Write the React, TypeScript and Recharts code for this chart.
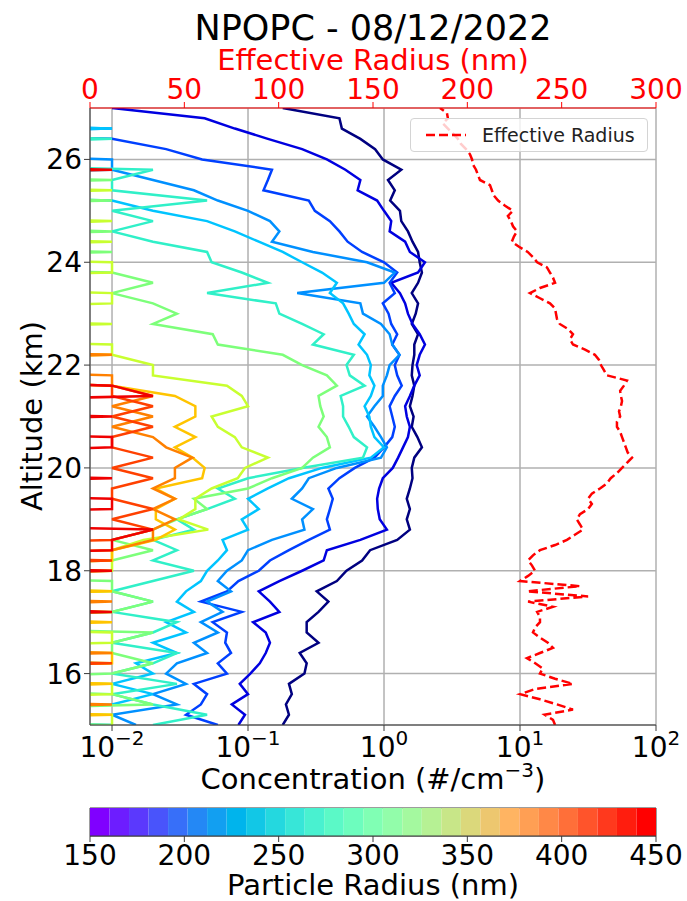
import React from 'react';
import { LineChart, Line, XAxis, YAxis, CartesianGrid, Legend, BarChart, Bar, ReferenceArea } from 'recharts';

// ---------------- DATA ----------------
const altitudeKm = [15.0,15.2,15.4,15.6,15.8,16.0,16.2,16.4,16.6,16.8,17.0,17.2,17.4,17.6,17.8,18.0,18.2,18.4,18.6,18.8,19.0,19.2,19.4,19.6,19.8,20.0,20.2,20.4,20.6,20.8,21.0,21.2,21.4,21.6,21.8,22.0,22.2,22.4,22.6,22.8,23.0,23.2,23.4,23.6,23.8,24.0,24.2,24.4,24.6,24.8,25.0,25.2,25.4,25.6,25.8,26.0,26.2,26.4,26.6,26.8,27.0];

const concBin1 = [0.18,0.20,0.19,0.21,0.20,0.26,0.27,0.24,0.33,0.27, 0.27,0.33,0.39,0.32,0.45,0.53,0.69,0.79,1.25,1.55, 1.47,1.55,1.47,1.55,1.62,1.60,1.67,1.90,1.76,1.60, 1.65,1.55,1.62,1.67,1.60,1.62,1.67,1.67,1.78,1.60, 1.71,1.78,1.60,1.78,1.90,1.83,1.78,1.62,1.50,1.34, 1.31,1.11,1.20,1.07,1.34,0.98,0.86,0.67,0.49,0.47, 0.18];
const concBin2 = [0.085,0.095,0.076,0.10,0.087,0.104,0.122,0.135,0.145,0.135, 0.109,0.17,0.145,0.12,0.17,0.25,0.36,0.38,0.67,1.05, 0.93,0.90,0.89,0.92,0.98,1.16,1.27,1.38,1.50,1.55, 1.47,1.43,1.55,1.67,1.83,1.74,1.83,2.0,1.83,1.62, 1.50,1.43,1.31,1.13,1.78,2.0,1.55,1.43,1.10,1.13, 1.0,0.89,0.64,0.67,0.52,0.38,0.25,0.14,0.08,0.048, 0.01];
const concBin3 = [0.06,0.035,0.045,0.05,0.04,0.07,0.06,0.075,0.068,0.07, 0.055,0.09,0.045,0.07,0.085,0.12,0.145,0.20,0.28,0.40, 0.38,0.40,0.42,0.39,0.47,0.61,0.85,1.0,1.15,1.2, 1.15,1.1,1.2,1.35,1.25,1.2,1.3,1.15,1.25,1.13, 1.08,0.98,1.2,1.1,1.25,1.0,0.69,0.54,0.47,0.40, 0.31,0.28,0.13,0.14,0.15,0.046,0.025,0.01,0,0, 0];
const concBin4 = [0.015,0.01,0.03,0.02,0.035,0.025,0.03,0.05,0.04,0.06, 0.045,0.065,0.05,0.075,0.06,0.07,0.09,0.10,0.15,0.26, 0.25,0.30,0.21,0.25,0.28,0.45,0.95,1.05,0.95,0.85, 0.75,0.85,0.98,0.98,1.05,1.1,1.3,1.15,1.1,0.95, 0.70,0.67,0.23,1.0,1.2,0.75,0.30,0.15,0.17,0.145, 0.10,0.06,0.04,0.02,0.01,0.01,0,0,0.01,0, 0];
const concBin5 = [0.01,0,0.01,0.02,0.01,0.02,0.015,0.03,0.02,0.035, 0.025,0.04,0.03,0.035,0.045,0.05,0.06,0.07,0.065,0.10, 0.09,0.12,0.10,0.14,0.20,0.35,0.80,1.0,0.85,0.80, 0.78,0.72,0.80,0.85,0.78,0.80,0.75,0.65,0.72,0.60, 0.55,0.50,0.40,0.45,0.35,0.25,0.18,0.12,0.08,0.05, 0.02,0.01,0,0,0.01,0,0,0,0.01,0, 0];
const concBin6 = [0.02,0.05,0.02,0.01,0.03,0.01,0.02,0.03,0.01,0.02, 0.03,0.01,0.02,0.01,0.02,0.04,0.02,0.03,0.02,0.04, 0.03,0.05,0.08,0.06,0.10,0.25,0.70,0.75,0.60,0.55, 0.50,0.50,0.48,0.72,0.56,0.53,0.60,0.30,0.36,0.25, 0.17,0.16,0.05,0.14,0.09,0.054,0.05,0.02,0.01,0.02, 0.01,0.05,0.01,0.01,0.02,0,0,0.01,0,0, 0];
const concBin7 = [0.01,0,0.02,0.01,0,0.01,0.02,0.01,0.01,0.02, 0,0.01,0.02,0.01,0.01,0,0.01,0.02,0.01,0.02, 0.03,0.05,0.04,0.10,0.15,0.25,0.30,0.40,0.38,0.33, 0.36,0.34,0.33,0.45,0.38,0.25,0.18,0.06,0.055,0.02, 0.03,0.02,0.01,0.02,0.01,0,0.01,0,0.01,0, 0,0.01,0,0.01,0,0,0,0,0,0, 0];
const concBin8 = [0.01,0.01,0,0.01,0.01,0,0.01,0,0.01,0.01, 0,0.01,0,0.01,0,0.01,0.01,0.01,0.017,0.051, 0.031,0.041,0.041,0.054,0.084,0.095,0.14,0.09,0.08,0.06, 0.054,0.10,0.09,0.07,0.02,0.02,0.01,0.01,0,0.01, 0,0.01,0.01,0,0.01,0.01,0,0.01,0,0.01, 0,0,0.01,0,0,0,0,0,0,0, 0];
const concBin9 = [0,0.01,0,0,0.01,0,0.01,0.01,0,0, 0.01,0,0,0.01,0,0,0.01,0.01,0.021,0.029, 0.021,0.021,0.029,0.021,0.046,0.048,0.039,0.029,0.041,0.029, 0.041,0.041,0.029,0.01,0,0,0.01,0,0,0, 0,0,0,0,0,0,0,0,0,0, 0,0,0,0,0,0,0,0,0,0, 0];
const concBin10 = [0,0,0.01,0,0,0,0,0.01,0,0, 0,0,0.01,0,0,0.01,0,0.01,0.02,0.02, 0.029,0.02,0.029,0.02,0.029,0.029,0.039,0.025,0.02,0.01, 0.02,0.01,0.02,0.01,0.01,0,0.01,0,0,0, 0,0,0,0,0,0,0,0,0,0, 0,0,0,0,0,0,0,0,0,0, 0];
const concBin11 = [0,0,0,0,0,0,0.01,0,0,0, 0,0,0,0,0,0,0.01,0,0.01,0.02, 0.01,0.02,0.01,0.01,0.02,0.01,0.02,0.01,0.01,0.02, 0.01,0.02,0.01,0.01,0,0,0,0,0,0, 0,0,0,0,0,0,0,0,0,0, 0,0,0,0,0,0,0,0,0,0, 0];
const concBin12 = [0,0,0,0,0,0,0,0,0,0, 0,0.01,0,0,0,0.01,0,0.01,0.01,0.02, 0,0.01,0.01,0,0.01,0,0,0.01,0.01,0, 0.01,0,0.02,0.01,0,0,0,0,0,0, 0,0,0,0,0,0,0,0,0,0, 0,0,0,0,0.01,0,0,0,0,0, 0];

const effAltitudeKm = [15.0,15.1,15.2,15.3,15.4,15.5,15.6,15.7,15.8,15.9,16.0,16.1,16.2,16.3,16.4,16.5,16.6,16.7,16.8,16.9,17.0,17.1,17.2,17.3,17.4,17.5,17.6,17.7,17.8,17.9,18.0,18.1,18.2,18.3,18.4,18.5,18.6,18.7,18.8,18.9,19.0,19.1,19.2,19.3,19.4,19.5,19.6,19.7,19.8,19.9,20.0,20.1,20.2,20.3,20.4,20.5,20.6,20.7,20.8,20.9,21.0,21.1,21.2,21.3,21.4,21.5,21.6,21.7,21.8,21.9,22.0,22.1,22.2,22.3,22.4,22.5,22.6,22.7,22.8,22.9,23.0,23.1,23.2,23.3,23.4,23.5,23.6,23.7,23.8,23.9,24.0,24.1,24.2,24.3,24.4,24.5,24.6,24.7,24.8,24.9,25.0,25.1,25.2,25.3,25.4,25.5,25.6,25.7,25.8,25.9,26.0,26.1,26.2,26.3,26.4,26.5,26.6,26.7,26.8,26.9,27.0];
const effRadiusNm = [246.5,245.4,241,256,247.5,238.5,228,236,256,246.5, 238.5,240,236,231.6,238.5,245.4,242.7,238.5,234.8,236, 238.5,238.5,237,245.4,232.2,264,231.6,259.7,228,232.2, 235.9,234.3,232.2,234.8,238.5,246.5,252.8,257,261.3,259.7, 258,259.7,264,266,264,266,270.3,274,276,279.3, 282,284.6,287.3,285,284,283,282,281,279.3,279.3, 281,280.4,281.4,282,281.4,281,283,284.6,274,272.4, 270.8,269.8,267.6,262.4,256,254.4,256,253.4,249,247.5, 247,246.5,243.8,238.5,233.2,238.5,246.5,245.4,243.8,242.2, 237,234.8,232,227.4,223.6,224.7,226.3,224.2,223.1,221.5, 224.2,220,216.3,214,213,212,206.7,205.6,204.6,203, 202.5,201.4,199.3,196.6,195,192.4,189.7,187,189.7,189.2, 185.5];

const concTicks = [0.01, 0.1, 1, 10, 100];
const concMinorTicks = [0.02,0.03,0.04,0.05,0.06,0.07,0.08,0.09,0.2,0.3,0.4,0.5,0.6,0.7,0.8,0.9,2,3,4,5,6,7,8,9,20,30,40,50,60,70,80,90];
const altTicks = [16, 18, 20, 22, 24, 26];
const effTicks = [0, 50, 100, 150, 200, 250, 300];
const radiusTicks = [150, 200, 250, 300, 350, 400, 450];
const radiusRange = [150, 450];
const colorbarLevels = 29;

// ---------------- STYLE ----------------
const FONT = 'DejaVu Sans';
const X_MIN = 0.006888;
const ZERO_FLOOR = 1e-5;
const SPINE = '#3a3a3a';

const series = [
  { key: 'b1', values: concBin1, color: '#000080' },
  { key: 'b2', values: concBin2, color: '#0000e0' },
  { key: 'b3', values: concBin3, color: '#0040ff' },
  { key: 'b4', values: concBin4, color: '#0090ff' },
  { key: 'b5', values: concBin5, color: '#00c4ff' },
  { key: 'b6', values: concBin6, color: '#30f0c8' },
  { key: 'b7', values: concBin7, color: '#7dff7a' },
  { key: 'b8', values: concBin8, color: '#c8ff30' },
  { key: 'b9', values: concBin9, color: '#ffc400' },
  { key: 'b10', values: concBin10, color: '#ff8000' },
  { key: 'b11', values: concBin11, color: '#ff4000' },
  { key: 'b12', values: concBin12, color: '#f00000' },
];

const table = altitudeKm.map((alt, i) => {
  const row: any = { alt };
  series.forEach((s) => {
    const v = s.values[i];
    row[s.key] = v > 0 ? v : ZERO_FLOOR;
  });
  return row;
});

const effData = effAltitudeKm.map((alt, i) => ({ alt, r: effRadiusNm[i] }));

const rainbow = (t: number) => {
  const r = Math.min(1, Math.abs(2 * t - 0.5));
  const g = Math.max(0, Math.sin(Math.PI * t));
  const b = Math.max(0, Math.cos((Math.PI * t) / 2));
  return `rgb(${Math.round(r * 255)},${Math.round(g * 255)},${Math.round(b * 255)})`;
};
const binWidth = (radiusRange[1] - radiusRange[0]) / colorbarLevels;
const colorbarRow: any = { name: 'cb', base: radiusRange[0] };
const colorbarKeys: string[] = [];
for (let k = 0; k < colorbarLevels; k++) {
  colorbarRow['c' + k] = binWidth;
  colorbarKeys.push('c' + k);
}
const colorbarData = [colorbarRow];

// ---------------- TICKS ----------------
const AltTick = (props: any) => {
  const { x, y, payload } = props;
  return (
    <text x={x} y={y + 10} textAnchor="end" fontSize={28} fontFamily={FONT} fill="#000">
      {payload.value}
    </text>
  );
};
const EffTick = (props: any) => {
  const { x, y, payload } = props;
  return (
    <text x={x} y={y - 1} textAnchor="middle" fontSize={28} fontFamily={FONT} fill="#ff0000">
      {payload.value}
    </text>
  );
};
const ConcTick = (props: any) => {
  const { x, y, payload } = props;
  const e = Math.round(Math.log10(payload.value));
  const exp = e < 0 ? `\u2212${-e}` : `${e}`;
  return (
    <text x={x} y={y + 24} textAnchor="middle" fontFamily={FONT} fill="#000">
      <tspan fontSize={28}>10</tspan>
      <tspan fontSize={20} dy={-12}>{exp}</tspan>
    </text>
  );
};
const RadiusTick = (props: any) => {
  const { x, y, payload } = props;
  return (
    <text x={x} y={y + 21} textAnchor="middle" fontSize={28} fontFamily={FONT} fill="#000">
      {payload.value}
    </text>
  );
};

const EffLegend = (props: any) => {
  const item = (props.payload || []).find((p: any) => p.dataKey === 'r');
  if (!item) return null;
  return (
    <div
      style={{
        boxSizing: 'border-box',
        width: 238,
        height: 34,
        border: '1px solid #d4d4d4',
        borderRadius: 4,
        background: 'rgba(255,255,255,0.8)',
        display: 'flex',
        alignItems: 'center',
        fontFamily: FONT,
        fontSize: 19,
        color: '#222',
      }}
    >
      <svg width={71} height={32} style={{ flex: 'none' }}>
        <line x1={15} y1={16} x2={55} y2={16} stroke={item.color} strokeWidth={2.5} strokeDasharray="9 4" />
      </svg>
      <span>{item.value}</span>
    </div>
  );
};

export default function App() {
  return (
    <div style={{ position: 'absolute', left: 0, top: 0, width: 687, height: 901, background: '#fff', overflow: 'hidden' }}>
      <div style={{ position: 'absolute', left: 0, top: 0 }}>
        <LineChart width={687} height={800} data={table} layout="vertical" margin={{ top: 0, right: 31, bottom: 0, left: 0 }}>
          <CartesianGrid xAxisId="conc" yAxisId="alt" stroke="#b0b0b0" strokeWidth={1.5} />
          <XAxis
            xAxisId="minor"
            orientation="bottom"
            type="number"
            scale="log"
            domain={[X_MIN, 100]}
            allowDataOverflow
            ticks={concMinorTicks}
            interval={0}
            tick={false}
            tickSize={3.5}
            tickLine={{ stroke: SPINE }}
            axisLine={false}
            height={0}
          />
          <XAxis
            xAxisId="conc"
            orientation="bottom"
            type="number"
            scale="log"
            domain={[X_MIN, 100]}
            allowDataOverflow
            ticks={concTicks}
            interval={0}
            tickSize={6}
            tick={<ConcTick />}
            stroke={SPINE}
            height={75}
          />
          <XAxis
            xAxisId="top"
            orientation="top"
            type="number"
            domain={[0, 300]}
            allowDataOverflow
            ticks={effTicks}
            interval={0}
            tickSize={6}
            tick={<EffTick />}
            stroke="#ff0000"
            height={108}
          />
          <YAxis
            yAxisId="alt"
            dataKey="alt"
            type="number"
            domain={[15, 27]}
            allowDataOverflow
            reversed
            ticks={altTicks}
            interval={0}
            tickSize={6}
            tick={<AltTick />}
            stroke={SPINE}
            width={90}
          />
          {series.map((s) => (
            <Line
              key={s.key}
              xAxisId="conc"
              yAxisId="alt"
              dataKey={s.key}
              stroke={s.color}
              strokeWidth={2.5}
              dot={false}
              isAnimationActive={false}
              legendType="none"
            />
          ))}
          <Line
            data={effData}
            xAxisId="top"
            yAxisId="alt"
            dataKey="r"
            name="Effective Radius"
            stroke="#ff0000"
            strokeWidth={2.5}
            strokeDasharray="9 4"
            dot={false}
            isAnimationActive={false}
          />
          <Legend
            content={<EffLegend />}
            layout="horizontal"
            verticalAlign="middle"
            align="center"
            wrapperStyle={{ left: 410, top: 118, width: 238, height: 34 }}
          />
        </LineChart>
      </div>
      <div style={{ position: 'absolute', left: 0, top: 800 }}>
        <BarChart width={687} height={101} data={colorbarData} layout="vertical" barCategoryGap={0} margin={{ top: 8, right: 31, bottom: 0, left: 90 }}>
          <YAxis type="category" dataKey="name" hide />
          <XAxis
            type="number"
            domain={radiusRange}
            allowDataOverflow
            ticks={radiusTicks}
            interval={0}
            tickSize={6}
            tick={<RadiusTick />}
            stroke={SPINE}
            height={65}
          />
          <Bar dataKey="base" stackId="cb" fill="none" isAnimationActive={false} />
          {colorbarKeys.map((k, i) => (
            <Bar key={k} dataKey={k} stackId="cb" fill={rainbow(i / (colorbarLevels - 1))} isAnimationActive={false} />
          ))}
          <ReferenceArea x1={radiusRange[0]} x2={radiusRange[1]} fill="none" stroke={SPINE} strokeWidth={1} />
        </BarChart>
      </div>
      <svg width={687} height={901} style={{ position: 'absolute', left: 0, top: 0, pointerEvents: 'none' }}>
        <text x={373} y={40} textAnchor="middle" fontSize={35} fontFamily={FONT} fill="#000">NPOPC - 08/12/2022</text>
        <text x={373} y={70} textAnchor="middle" fontSize={29} fontFamily={FONT} fill="#ff0000">Effective Radius (nm)</text>
        <text transform="translate(42,416) rotate(-90)" textAnchor="middle" fontSize={29} fontFamily={FONT} fill="#000">Altitude (km)</text>
        <text x={373} y={789} textAnchor="middle" fontFamily={FONT} fill="#000">
          <tspan fontSize={29}>Concentration (#/cm</tspan>
          <tspan fontSize={20} dy={-12}>{'\u22123'}</tspan>
          <tspan fontSize={29} dy={12}>)</tspan>
        </text>
        <text x={373} y={895} textAnchor="middle" fontSize={29} fontFamily={FONT} fill="#000">Particle Radius (nm)</text>
      </svg>
    </div>
  );
}
